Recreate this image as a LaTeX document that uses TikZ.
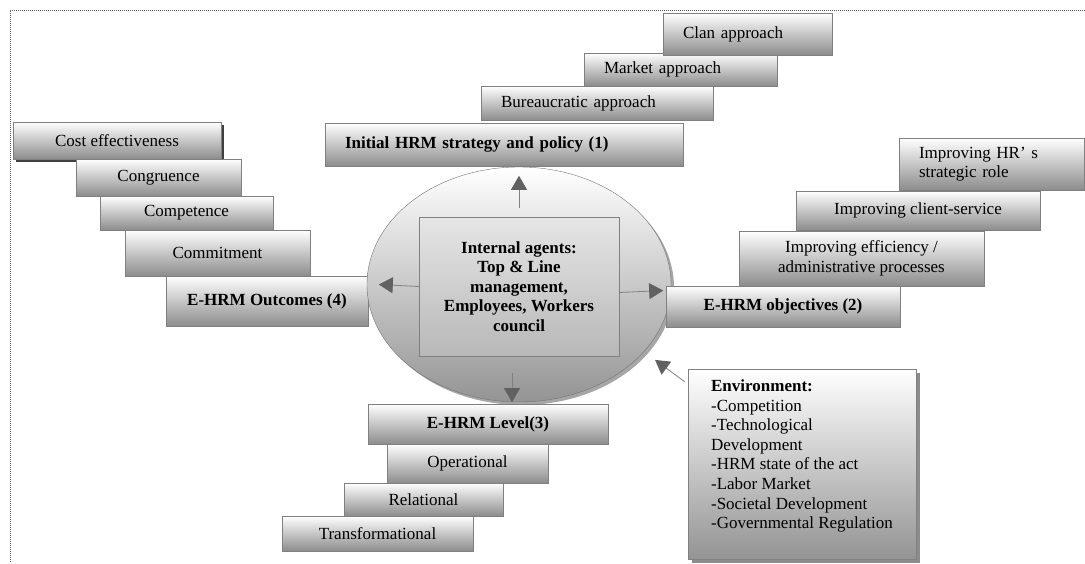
\documentclass[tikz,border=0pt]{standalone}
\usepackage{fontspec}
\setmainfont{Liberation Serif}
\usetikzlibrary{shapes.geometric,shadows,arrows.meta,calc}
\begin{document}
\begin{tikzpicture}[x=1pt,y=-1pt,
  stair/.style={draw=black!50,top color=white,bottom color=black!45,inner sep=0pt,align=center,font=\fontsize{17}{19.6}\selectfont},
  boldstair/.style={stair,font=\fontsize{17}{19.6}\selectfont\bfseries},
  leftstair/.style={stair,align=left,inner xsep=20pt},
  flow/.style={draw=black!50,line width=0.8pt,-{Triangle[length=14pt,width=16pt,color=black!62]}}]
\useasboundingbox (0,0) rectangle (1085,563);
\draw[black!65,line width=0.6pt,dash pattern=on 1pt off 1pt] (1085,10) -- (10,10) -- (10,563);
% strategy steps
\node[leftstair,text width=153pt,minimum height=33pt] (market) at (680.5,69.5) {Market approach};
\node[leftstair,text width=129pt,minimum height=42pt] (clan) at (747.5,34) {Clan approach};
\node[leftstair,text width=192pt,minimum height=34pt] (bureau) at (597,103) {Bureaucratic approach};
\node[leftstair,text width=318pt,minimum height=43pt,font=\fontsize{17}{19.6}\selectfont\bfseries] (initial) at (504,144.5) {Initial HRM strategy and policy (1)};
% outcomes steps
\node[stair,minimum width=208pt,minimum height=37pt,drop shadow={shadow xshift=3pt,shadow yshift=-3pt,fill=black!75,opacity=1}] (cost) at (117,140.5) {Cost effectiveness};
\node[stair,minimum width=165pt,minimum height=37pt] (congr) at (158.5,177.5) {Congruence};
\node[stair,minimum width=173pt,minimum height=34pt] (compet) at (186.5,213) {Competence};
\node[stair,minimum width=185pt,minimum height=46pt] (commit) at (217.5,253) {Commitment};
\node[boldstair,minimum width=202pt,minimum height=50pt] (outcomes) at (267,301) {E-HRM Outcomes (4)};
% internal agents
\node[ellipse,draw=black!55,top color=white,bottom color=black!42,minimum width=304pt,minimum height=235pt,inner sep=0pt,drop shadow={shadow xshift=3pt,shadow yshift=-3pt,fill=black!35,opacity=1}] (hub) at (519,284.5) {};
\node[boldstair,top color=black!10,bottom color=black!28,minimum width=200pt,minimum height=139pt] (agents) at (519,286.5) {Internal agents:\\Top \& Line\\management,\\Employees, Workers\\council};
% objectives steps
\node[leftstair,text width=145pt,minimum height=52pt] (role) at (991.5,164) {Improving HR’ s\\strategic role};
\node[stair,minimum width=244pt,minimum height=39pt] (client) at (918,210.5) {Improving client-service};
\node[stair,minimum width=245pt,minimum height=55pt] (effic) at (861.5,258.5) {Improving efficiency /\\administrative processes};
\node[boldstair,minimum width=234pt,minimum height=41pt] (objectives) at (783,306.5) {E-HRM objectives (2)};
% level steps
\node[boldstair,minimum width=240pt,minimum height=40pt] (level) at (488,424) {E-HRM Level(3)};
\node[stair,minimum width=161pt,minimum height=39pt] (oper) at (467.5,463.5) {Operational};
\node[stair,minimum width=159pt,minimum height=33pt] (relat) at (423.5,499.5) {Relational};
\node[stair,minimum width=191pt,minimum height=35pt] (transf) at (377.5,533.5) {Transformational};
% environment
\node[stair,bottom color=black!42,align=left,minimum width=228pt,minimum height=190pt,drop shadow={shadow xshift=4pt,shadow yshift=-4pt,fill=black!45,opacity=1}] (env) at (802,464) {\textbf{Environment:}\\-Competition\\-Technological\\Development\\-HRM state of the act\\-Labor Market\\-Societal Development\\-Governmental Regulation\\\mbox{}};
% arrows
\draw[flow] ([yshift=9pt]agents.north) -- ([yshift=-9pt]hub.north);
\draw[flow] (agents.west) -- ([xshift=12pt]hub.west);
\draw[flow] ([yshift=-6pt]agents.east) -- ([xshift=-8pt,yshift=-6pt]hub.east);
\draw[flow] ([xshift=-7pt,yshift=-17pt]agents.south) -- ([xshift=-7pt]hub.south);
\draw[flow] ([xshift=-3pt,yshift=-13pt]env.north west) -- ($(hub.center)!1.1!(hub.-29)$);
\end{tikzpicture}
\end{document}
